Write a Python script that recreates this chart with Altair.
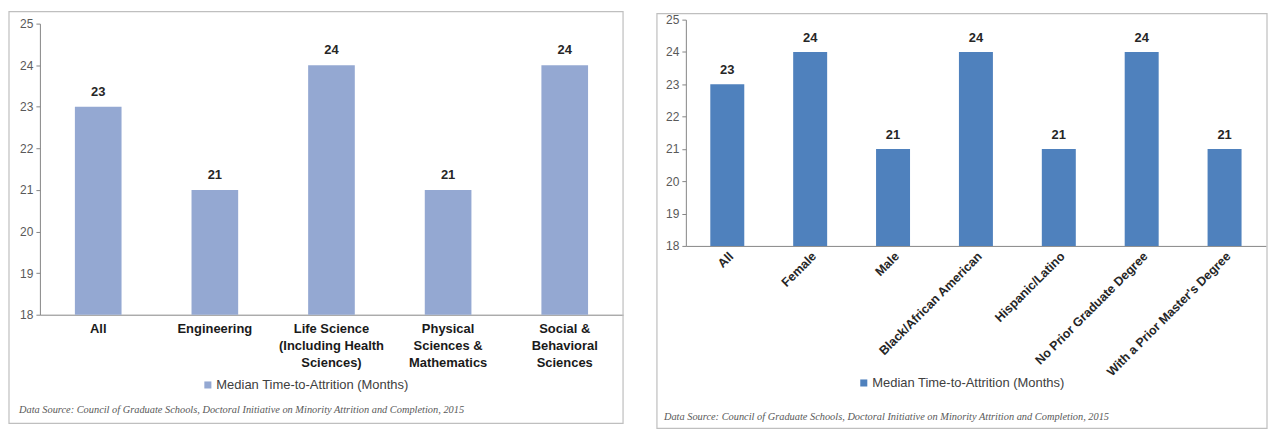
import altair as alt
import pandas as pd

# ---- data ----
left_categories = ["All", "Engineering", "Life Science|(Including Health|Sciences)",
                   "Physical|Sciences &|Mathematics", "Social &|Behavioral|Sciences"]
left_values = [23, 21, 24, 21, 24]

right_categories = ["All", "Female", "Male", "Black/African American", "Hispanic/Latino",
                    "No Prior Graduate Degree", "With a Prior Master's Degree"]
right_values = [23, 24, 21, 24, 21, 24, 21]

series_name = "Median Time-to-Attrition (Months)"
source_text = "Data Source:  Council of Graduate Schools, Doctoral Initiative on Minority Attrition and Completion, 2015"
y_ticks = [18, 19, 20, 21, 22, 23, 24, 25]

LEFT_COLOR = "#94A8D2"
RIGHT_COLOR = "#4F81BD"
FONT = "Liberation Sans"

left_df = pd.DataFrame({"cat": left_categories, "val": left_values, "series": series_name})
right_df = pd.DataFrame({"cat": right_categories, "val": right_values, "series": series_name})
one = pd.DataFrame({"t": [source_text]})


def panel(df, color, width, height, top, xaxis, bar_pad, rect_box, legend_xy, src_xy, label_dy):
    y_axis = alt.Axis(values=y_ticks, tickCount=8, grid=False, labelFont=FONT, labelFontSize=12,
                      labelColor="#595959", tickSize=4, tickColor="#868686",
                      domainColor="#868686", labelPadding=3, title=None,
                      labelOverlap=False, labelFlush=False)
    y = alt.Y("val:Q", scale=alt.Scale(domain=[18, 25], nice=False, zero=False,
                                       range=[height, top]), axis=y_axis)
    x = alt.X("cat:N", sort=list(df["cat"]),
              scale=alt.Scale(paddingInner=bar_pad, paddingOuter=bar_pad / 2), axis=xaxis)
    bars = alt.Chart(df).mark_bar(clip=True).encode(
        x=x, y=y,
        color=alt.Color("series:N", scale=alt.Scale(range=[color]),
                        legend=alt.Legend(orient="none", legendX=legend_xy[0], legendY=legend_xy[1],
                                          title=None, symbolType="square", symbolSize=50,
                                          symbolStrokeWidth=0, labelFont=FONT, labelFontSize=13,
                                          labelColor="#404040", labelOffset=2, labelLimit=0)),
    )
    labels = alt.Chart(df).mark_text(baseline="bottom", dy=label_dy, font=FONT, fontSize=13,
                                     fontWeight="bold", color="#262626").encode(
        x=x, y=y, text="val:Q")
    border = alt.Chart(one).mark_rect(fill="transparent", stroke="#BFBFBF", strokeWidth=1.2,
                                      clip=False).encode(
        x=alt.value(rect_box[0]), x2=alt.value(rect_box[1]),
        y=alt.value(rect_box[2]), y2=alt.value(rect_box[3]))
    src = alt.Chart(one).mark_text(align="left", baseline="middle", font="Liberation Serif",
                                   fontStyle="italic", fontSize=10.4, color="#595959",
                                   clip=False).encode(
        text="t:N", x=alt.value(src_xy[0]), y=alt.value(src_xy[1]))
    return alt.layer(border, bars, labels, src).properties(width=width, height=height)


left_xaxis = alt.Axis(title=None, labelAngle=0, ticks=False, labelFont=FONT, labelFontSize=13,
                      labelFontWeight="bold", labelColor="#1a1a1a", labelPadding=8,
                      labelLineHeight=17, domainColor="#868686",
                      labelExpr="split(datum.label, '|')")
right_xaxis = alt.Axis(title=None, labelAngle=-45, labelAlign="right", labelBaseline="middle",
                       ticks=False, labelFont=FONT, labelFontSize=12.5, labelFontWeight="bold",
                       labelColor="#262626", labelPadding=8, labelOffset=4, domainColor="#868686")

left = panel(left_df, LEFT_COLOR, 585, 292, 0, left_xaxis, 0.6,
             (-31, 585, -12, 401), (162, 356), (-21, 388), -8)
right = panel(right_df, RIGHT_COLOR, 582, 223, -4, right_xaxis, 0.59,
              (-29, 583, -10, 406), (172, 354), (-22, 395), -7)

chart = alt.hconcat(left, right, spacing=32).resolve_scale(
    x="independent", y="independent", color="independent"
).resolve_legend(color="independent").properties(
    padding={"left": 0, "top": 2, "right": 0, "bottom": 0}
).configure_view(stroke=None)

chart.save("out.html", embed_options={"renderer": "svg", "actions": False})
